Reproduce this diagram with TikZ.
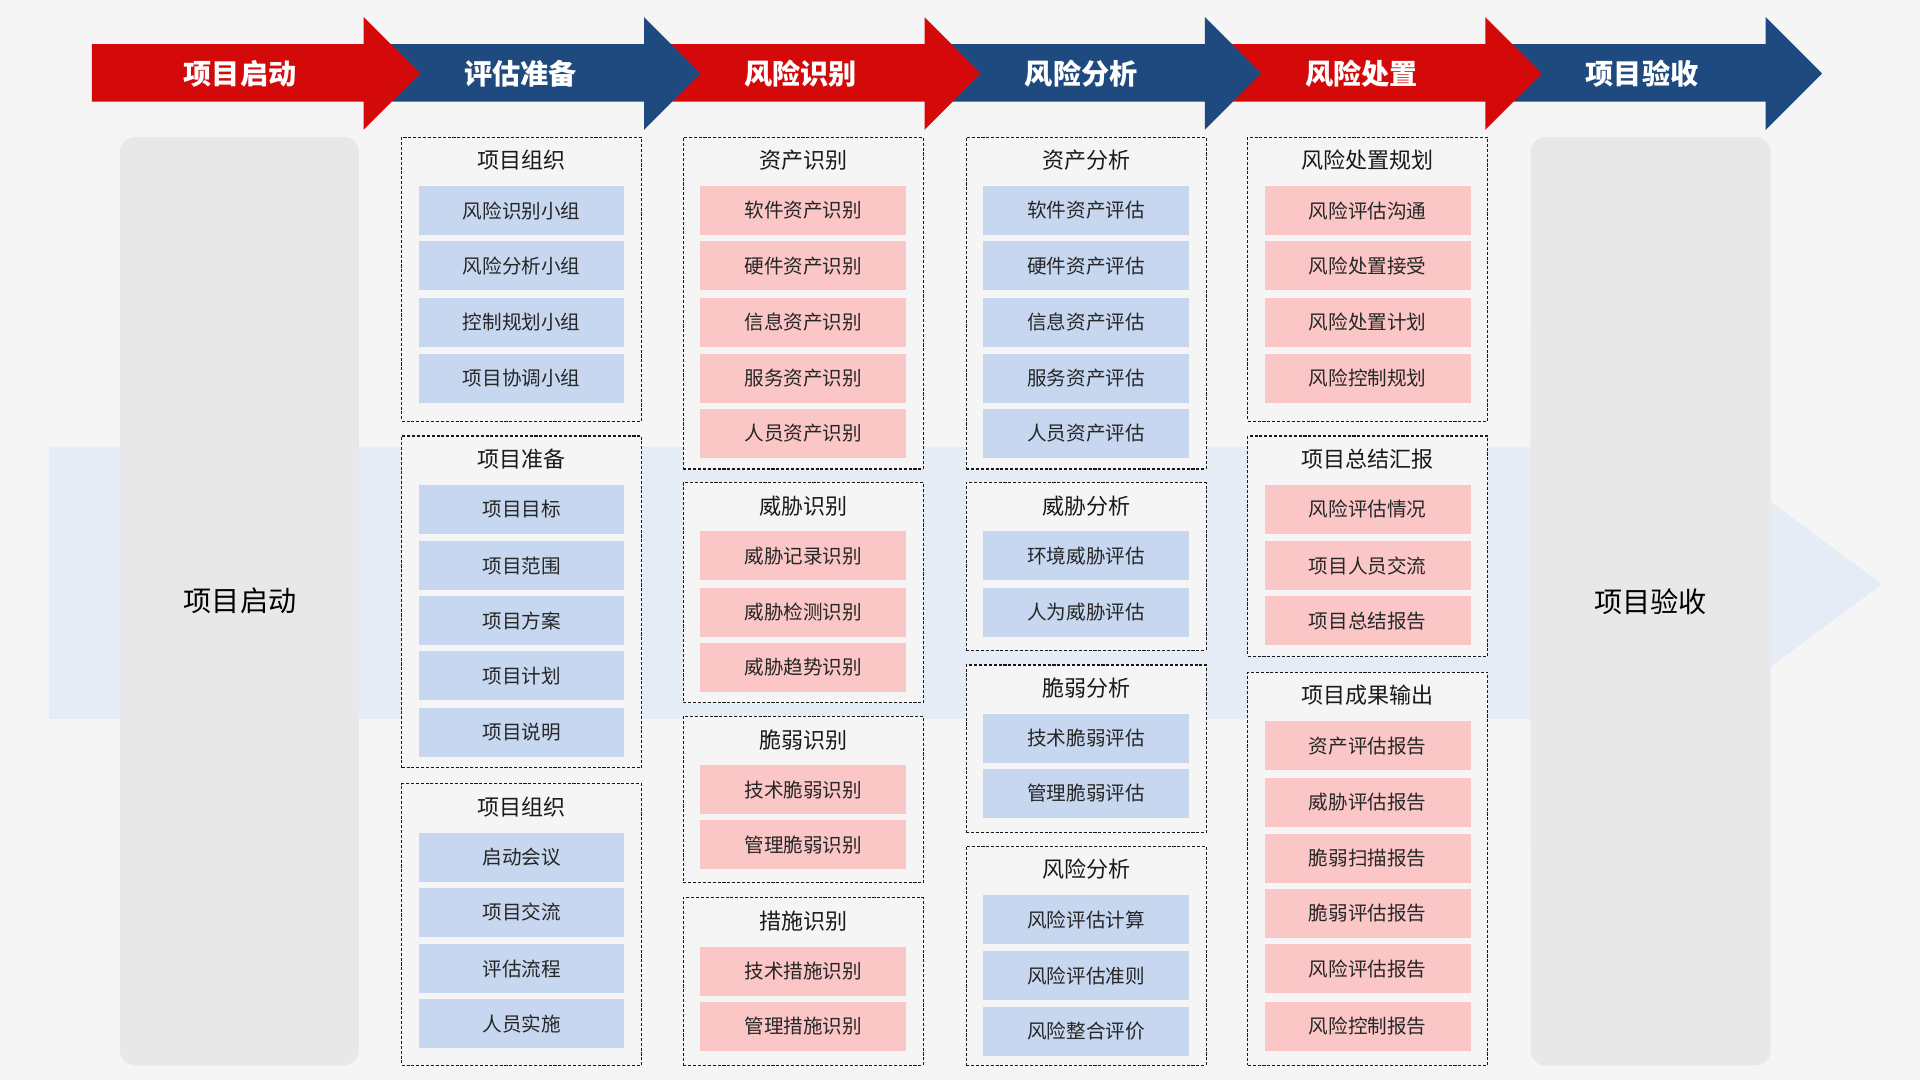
\documentclass[tikz,border=0pt]{standalone}
\usepackage{fontspec}
\setmainfont{Noto Sans CJK SC}
\definecolor{bg}{HTML}{F5F5F5}
\definecolor{bgarrow}{HTML}{E6ECF5}
\definecolor{grey}{HTML}{E8E8E8}
\definecolor{hred}{HTML}{D40A0A}
\definecolor{hblue}{HTML}{1F4A80}
\definecolor{ib}{HTML}{C6D7EF}
\definecolor{ip}{HTML}{FBC6C6}
\tikzset{
 grpbox/.style={draw=black!90,dash pattern=on 2.5pt off 1.5pt,line width=1pt,fill=bg,minimum width=196pt,inner sep=0},
 item/.style={minimum width=168pt,minimum height=40pt,inner sep=0,font=\fontsize{16}{16}\selectfont,text=black!85},
 bi/.style={item,fill=ib}, pi/.style={item,fill=ip},
 gtitle/.style={font=\fontsize{18}{18}\selectfont,text=black!90},
 hdr/.style={font=\bfseries\fontsize{23}{23}\selectfont,text=white},
 big/.style={font=\fontsize{23}{23}\selectfont,text=black}
}
\newcommand\grp[7]{%
 \pgfmathsetmacro\gh{#4-#3}\pgfmathsetmacro\gc{(#3+#4)/2}%
 \node[grpbox,minimum height=\gh pt] (#1) at (#2,\gc) {};
 \node[gtitle] (#1t) at (#2,#3+19) {#5};
 \foreach \yy/\tt [count=\i] in {#7} {\node[#6] (#1-\i) at (#2,\yy) {\tt};}
}
\newcommand\harrow[4]{%
 \fill[#2] (#1,36) -- (#1+222,36) -- (#1+222,14) -- (#1+268,60) -- (#1+222,106) -- (#1+222,83) -- (#1,83) -- cycle;
 \node[hdr] (#3) at (#1+121,60) {#4};
}
\begin{document}
\begin{tikzpicture}[x=1pt,y=-1pt]
\fill[bg] (0,0) rectangle (1568,882);
\useasboundingbox (0,0) rectangle (1568,882);
\fill[bgarrow] (40,365) -- (1250,365) -- (1250,265) -- (1537,477) -- (1250,690) -- (1250,587) -- (40,587) -- cycle;
\harrow{1220}{hblue}{h6}{项目验收}
\harrow{991}{hred}{h5}{风险处置}
\harrow{762}{hblue}{h4}{风险分析}
\harrow{533}{hred}{h3}{风险识别}
\harrow{304}{hblue}{h2}{评估准备}
\harrow{75}{hred}{h1}{项目启动}
\fill[grey,rounded corners=12pt] (98,112) rectangle (293,870);
\node[big] (start) at (196,491) {项目启动};
\fill[grey,rounded corners=12pt] (1250,112) rectangle (1446,870);
\node[big] (end) at (1348,491) {项目验收};
% col2
\grp{a}{426}{112}{344}{项目组织}{bi}{172/风险识别小组,217/风险分析小组,263/控制规划小组,309/项目协调小组}
\grp{b}{426}{356}{627}{项目准备}{bi}{416/项目目标,462/项目范围,507/项目方案,552/项目计划,598/项目说明}
\grp{c}{426}{640}{870}{项目组织}{bi}{700/启动会议,745/项目交流,791/评估流程,836/人员实施}
% col3
\grp{d}{656}{112}{383}{资产识别}{pi}{172/软件资产识别,217/硬件资产识别,263/信息资产识别,309/服务资产识别,354/人员资产识别}
\grp{e}{656}{394}{574}{威胁识别}{pi}{454/威胁记录识别,500/威胁检测识别,545/威胁趋势识别}
\grp{f}{656}{585}{721}{脆弱识别}{pi}{645/技术脆弱识别,690/管理脆弱识别}
\grp{g}{656}{733}{870}{措施识别}{pi}{793/技术措施识别,838/管理措施识别}
% col4
\grp{h}{887}{112}{383}{资产分析}{bi}{172/软件资产评估,217/硬件资产评估,263/信息资产评估,309/服务资产评估,354/人员资产评估}
\grp{i}{887}{394}{531}{威胁分析}{bi}{454/环境威胁评估,500/人为威胁评估}
\grp{j}{887}{543}{680}{脆弱分析}{bi}{603/技术脆弱评估,648/管理脆弱评估}
\grp{k}{887}{691}{870}{风险分析}{bi}{751/风险评估计算,797/风险评估准则,842/风险整合评价}
% col5
\grp{l}{1117}{112}{344}{风险处置规划}{pi}{172/风险评估沟通,217/风险处置接受,263/风险处置计划,309/风险控制规划}
\grp{m}{1117}{356}{536}{项目总结汇报}{pi}{416/风险评估情况,462/项目人员交流,507/项目总结报告}
\grp{n}{1117}{549}{870}{项目成果输出}{pi}{609/资产评估报告,655/威胁评估报告,701/脆弱扫描报告,746/脆弱评估报告,791/风险评估报告,838/风险控制报告}
\end{tikzpicture}
\end{document}
